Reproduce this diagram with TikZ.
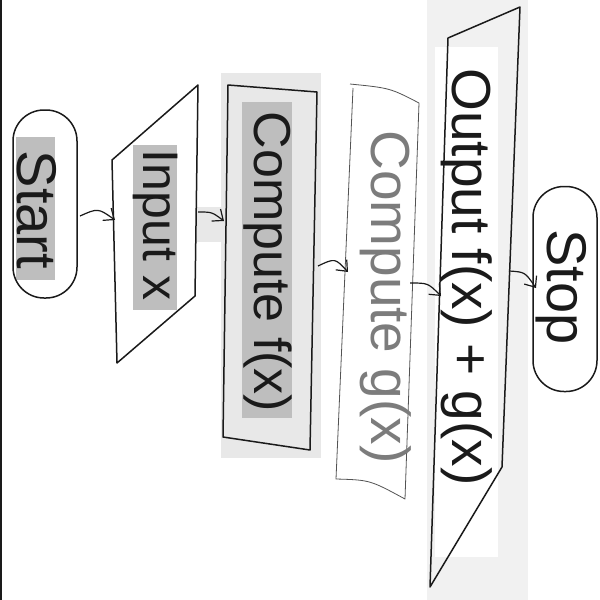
\documentclass[tikz,border=0pt]{standalone}
\usepackage{fontspec}
\setmainfont{Liberation Sans}
\usetikzlibrary{arrows.meta}
\definecolor{ink}{HTML}{1A1A1A}
\definecolor{labelgray}{HTML}{BEBEBE}
\definecolor{panelgray}{HTML}{E8E8E8}
\definecolor{palegray}{HTML}{F1F1F1}
\definecolor{fadeink}{HTML}{7C7C7C}

\begin{document}
\begin{tikzpicture}[x=1pt,y=-1pt, every node/.style={inner sep=0pt}, outline/.style={draw=ink,line width=1.5pt,line join=round}, faint outline/.style={draw=ink!75,line width=.8pt,line join=round}, lbl/.style={rotate=-90,text=ink}, flow/.style={draw=ink,line width=1.2pt,-{Straight Barb[length=9pt,width=15pt]}}]
\useasboundingbox (0,0) rectangle (600,600);
\fill[white] (0,0) rectangle (600,600);
\draw[ink,line width=1.5pt] (1,0) -- (1,600);
% backing panels
\fill[panelgray] (221,73) rectangle (321,458);
\fill[panelgray] (197,207) rectangle (222,242);
\fill[palegray] (427,0) rectangle (528,600);
\fill[white] (435,47) rectangle (498,557);
\fill[labelgray] (16,137) rectangle (55,280);
\fill[labelgray] (133,145) rectangle (177,310);
\fill[labelgray] (242,102) rectangle (292,418);
% shapes
\node[outline,minimum width=64,minimum height=188,rounded corners=31] (start) at (45,204) {};
\draw[outline] (112,160) -- (198,85) -- (195,296) -- (117,363) -- cycle;
\draw[outline] (228,85) -- (317,92) -- (310,450) -- (223,437) -- cycle;
\draw[faint outline] (353,88) -- (336,479) .. controls (370,480) .. (405,499) -- (419,103) .. controls (390,88) .. (350,84);
\draw[outline] (448,38) -- (520,7) -- (502,467) -- (430,587) -- cycle;
\node[outline,minimum width=64,minimum height=205,rounded corners=31] (stop) at (565,289) {};
% labels
\node[lbl,font=\fontsize{56}{60}\selectfont] (start text) at (37,210) {Start};
\node[lbl,font=\fontsize{50}{60}\selectfont] (input text) at (156,225) {Input x};
\node[lbl,font=\fontsize{52}{60}\selectfont] (f text) at (268,262) {Compute f(x)};
\node[lbl,font=\fontsize{55}{60}\selectfont,text=fadeink] (g text) at (386,297) {Compute g(x)};
\node[lbl,font=\fontsize{55}{60}\selectfont] (out text) at (467,277) {Output f(x) + g(x)};
\node[lbl,font=\fontsize{56}{60}\selectfont] (stop text) at (561,287) {Stop};
% connector ends
\coordinate (start e) at (80,216);
\coordinate (input w) at (115,220);
\coordinate (input e) at (198,212);
\coordinate (f w) at (224,221);
\coordinate (f e) at (318,266);
\coordinate (g w) at (348,272);
\coordinate (g e) at (410,283);
\coordinate (out w) at (441,296);
\coordinate (out e) at (509,271);
\coordinate (stop w) at (536,288);
\draw[flow] (start e) .. controls (98,208) .. (input w);
\draw[flow] (input e) .. controls (212,212) .. (f w);
\draw[flow] (f e) .. controls (335,258) .. (g w);
\draw[flow] (g e) .. controls (428,283) .. (out w);
\draw[flow] (out e) .. controls (525,272) .. (stop w);
\end{tikzpicture}
\end{document}
